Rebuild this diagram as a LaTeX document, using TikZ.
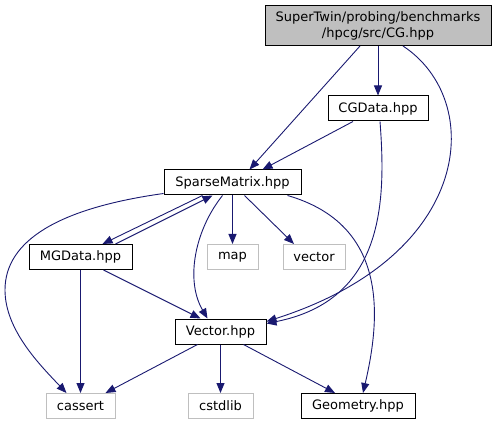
\documentclass[tikz,border=0pt]{standalone}
\usepackage{fontspec}
\setmainfont{DejaVu Sans}
\usetikzlibrary{arrows.meta,calc}
\definecolor{edgeblue}{HTML}{191970}
\definecolor{boxgray}{HTML}{BFBFBF}
\begin{document}
\begin{tikzpicture}[x=1pt,y=-1pt,
  every node/.style={font=\fontsize{13}{16}\selectfont, inner sep=0pt, text=black},
  filebox/.style={draw=black, line width=1pt, minimum height=25pt},
  sysbox/.style={draw=boxgray, line width=1pt, minimum height=25pt},
  dep/.style={draw=edgeblue, line width=0.9pt, -{Triangle[length=10pt,width=8pt]}, color=edgeblue}
]
\useasboundingbox (0,0) rectangle (496,425);
\node[draw=black, line width=1pt, fill=boxgray, minimum width=226pt, minimum height=40pt, align=center] (cg) at (378,25.5) {SuperTwin/probing/benchmarks\\/hpcg/src/CG.hpp};
\node[filebox, minimum width=100pt] (cgd) at (378,108.5) {CGData.hpp};
\node[filebox, minimum width=137pt] (sm) at (232.5,182.5) {SparseMatrix.hpp};
\node[filebox, minimum width=103pt] (mg) at (80.5,257) {MGData.hpp};
\node[sysbox, minimum width=51pt] (map) at (232.5,257) {map};
\node[sysbox, minimum width=62pt] (vec) at (314,257) {vector};
\node[filebox, minimum width=91pt] (vh) at (220.5,331.5) {Vector.hpp};
\node[sysbox, minimum width=69pt] (cas) at (80.5,406) {cassert};
\node[sysbox, minimum width=65pt] (cst) at (220.5,406) {cstdlib};
\node[filebox, minimum width=114pt] (geo) at (358,406) {Geometry.hpp};

\draw[dep] ([xshift=-18pt]cg.south) -- ([xshift=17pt]sm.north);
\draw[dep] (cg.south) -- (cgd.north);
\draw[dep] ([xshift=25pt]cg.south) .. controls (485,100) and (475,255) .. ([yshift=-3pt]vh.north east);
\draw[dep] ([xshift=-25pt]cgd.south) -- ([xshift=30pt]sm.north);
\draw[dep] ([xshift=2pt]cgd.south) .. controls (386,200) and (385,300) .. ([yshift=-5pt]vh.north east);
\draw[dep] ([yshift=2pt]sm.south west) .. controls (60,208) and (5,240) .. (5,290) .. controls (5,330) and (40,365) .. ([xshift=-14pt]cas.north);
\draw[dep] ([xshift=-30pt]sm.south) -- ([xshift=22pt]mg.north);
\draw[dep] ([xshift=35pt]mg.north) -- ([xshift=-20pt]sm.south);
\draw[dep] (sm.south) -- (map.north);
\draw[dep] ([xshift=12pt]sm.south) -- ([xshift=-20pt]vec.north);
\draw[dep] ([xshift=-10pt]sm.south) .. controls (195,230) and (185,280) .. ([xshift=-13pt]vh.north);
\draw[dep] ([xshift=55pt]sm.south) .. controls (390,225) and (380,320) .. ([xshift=5pt]geo.north);
\draw[dep] ([xshift=23pt]mg.south) -- ([xshift=-20pt]vh.north);
\draw[dep] (mg.south) -- (cas.north);
\draw[dep] ([xshift=-23pt]vh.south) -- ([xshift=25pt]cas.north);
\draw[dep] (vh.south) -- (cst.north);
\draw[dep] ([xshift=23pt]vh.south) -- ([xshift=-23pt]geo.north);
\end{tikzpicture}
\end{document}
